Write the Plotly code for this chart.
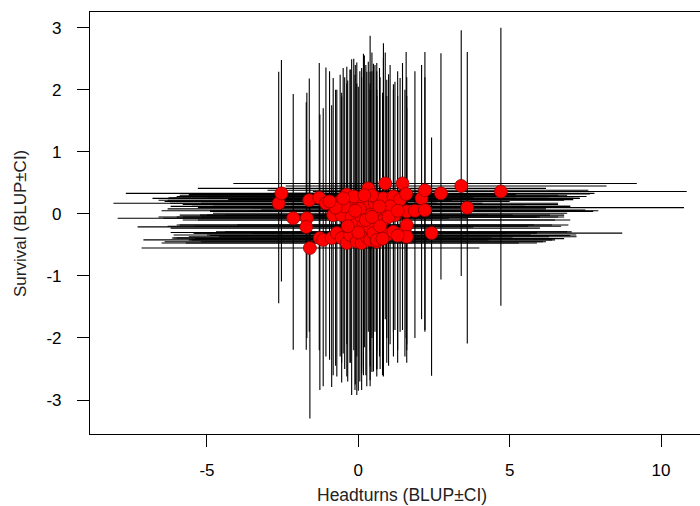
import plotly.graph_objects as go

# BLUP estimates and confidence limits
headturns = [-2.63, -2.54, -2.15, -1.70, -1.72, -1.60, -1.62, -1.29, -1.07, -1.27,
             -1.16, -0.88, -0.83, -0.71, -0.60, -0.55, -0.55, -0.38, -0.38, -0.27,
             -0.27, -0.22, -0.11, -0.05, -0.05, 0.11, 0.11, 0.17, 0.17, 0.28,
             0.33, 0.39, 0.39, 0.39, 0.39, 0.50, 0.55, 0.61, 0.61, 0.61,
             0.61, 0.83, 0.83, 0.89, 0.94, 0.94, 1.16, 1.16, 1.21, 1.38,
             1.46, 1.54, 1.58, 1.60, 1.60, 1.60, 1.87, 2.09, 2.20, 2.20,
             2.42, 2.73, 3.40, 3.60, 4.71, -0.45, 0.05, 0.25, 0.72, 1.05,
             -0.15, 0.45, -0.75, -0.95, -0.50, -0.10, 0.20, 0.70, 1.00,
             1.30, 0.00, 0.45, -0.35, 0.80, 1.30]
survival = [0.17, 0.33, -0.07, -0.07, -0.21, -0.55, 0.22, 0.26, 0.17, -0.39,
            -0.42, -0.39, -0.02, -0.31, 0.20, -0.02, -0.39, 0.31, -0.47, 0.15,
            -0.34, -0.05, -0.18, 0.25, -0.45, -0.05, -0.47, 0.22, -0.18, -0.37,
            0.41, 0.15, -0.02, -0.23, -0.42, -0.31, 0.17, 0.25, 0.01, -0.45,
            -0.42, 0.25, -0.10, 0.49, 0.04, -0.34, 0.28, -0.29, -0.02, 0.23,
            0.49, -0.29, 0.32, 0.04, -0.18, -0.37, 0.05, 0.25, 0.38, 0.06,
            -0.31, 0.33, 0.45, 0.10, 0.36, 0.12, 0.08, -0.10, -0.20, 0.12,
            0.28, 0.30, 0.10, 0.20, 0.25, 0.05, 0.30, 0.12, -0.05,
            0.05, -0.30, -0.05, -0.20, -0.40, -0.35]
surv_lo = [-1.44, -1.09, -2.19, -2.00, -2.19, -3.30, -1.90, -2.20, -2.30, -2.84,
           -2.78, -2.79, -2.60, -2.62, -2.30, -2.40, -2.72, -2.10, -2.62, -2.40,
           -2.40, -2.92, -2.84, -2.30, -2.92, -2.84, -2.57, -2.46, -2.60, -2.78,
           -1.90, -2.20, -2.46, -2.78, -2.68, -2.54, -1.90, -2.20, -2.51, -2.62,
           -2.50, -1.84, -2.62, -1.70, -2.00, -2.40, -1.91, -2.30, -1.87, -1.90,
           -1.87, -2.30, -2.00, -2.10, -2.20, -2.40, -2.00, -1.70, -1.87, -1.90,
           -2.61, -1.06, -1.00, -2.09, -1.48, -2.50, -2.70, -2.60, -2.50, -2.10,
           -2.20, -2.00, -2.45, -2.35, -2.25, -2.75, -2.15, -2.30, -2.45,
           -2.20, -2.85, -2.55, -2.70, -2.60, -2.40]
surv_hi = [2.29, 2.48, 1.93, 1.95, 1.80, 1.20, 2.18, 2.43, 2.36, 1.60,
           1.70, 1.75, 2.19, 2.00, 2.24, 1.89, 1.95, 2.37, 2.10, 2.33,
           2.32, 2.49, 2.24, 2.44, 2.10, 2.35, 2.20, 2.58, 2.33, 2.29,
           2.45, 2.87, 2.29, 2.10, 2.00, 2.42, 2.40, 2.43, 2.30, 2.00,
           1.90, 2.75, 2.51, 2.60, 2.16, 1.90, 2.09, 2.00, 2.13, 2.19,
           2.43, 2.00, 2.61, 2.20, 1.90, 1.70, 2.30, 2.40, 2.61, 2.20,
           1.23, 2.59, 2.96, 2.61, 3.00, 2.20, 2.30, 2.40, 2.20, 2.40,
           2.50, 2.60, 2.00, 2.30, 2.35, 2.40, 2.55, 2.35, 2.25,
           2.30, 2.05, 2.30, 2.15, 1.95, 1.90]
head_lo = [-8.09, -7.68, -7.95, -6.44, -7.29, -7.16, -6.30, -6.27, -6.22, -6.16,
           -7.10, -6.11, -5.23, -5.45, -5.90, -5.00, -6.00, -5.60, -6.50, -5.80,
           -6.10, -6.60, -6.00, -6.80, -6.40, -6.00, -5.70, -6.60, -5.90, -5.60,
           -5.30, -5.50, -5.90, -6.20, -5.50, -5.40, -5.20, -5.00, -4.80, -5.20,
           -5.60, -5.10, -5.30, -3.78, -4.90, -5.00, -4.50, -4.70, -4.40, -4.30,
           -4.13, -4.40, -4.00, -4.20, -4.00, -4.60, -3.60, -3.40, -3.00, -3.20,
           -3.50, -2.80, -2.40, -3.50, -1.50, -6.20, -6.30, -5.80, -5.40, -4.80,
           -6.00, -5.60, -5.30, -6.40, -6.10, -6.50, -5.90, -5.50, -5.20,
           -4.90, -6.20, -5.80, -6.30, -5.40, -4.90]
head_hi = [2.60, 2.70, 3.60, 3.00, 3.80, 4.00, 3.10, 3.80, 4.10, 3.50,
           4.30, 4.40, 5.10, 4.90, 5.00, 4.30, 5.10, 5.20, 5.30, 5.40,
           5.70, 6.00, 5.80, 6.30, 6.10, 5.90, 5.90, 6.80, 6.40, 6.30,
           6.20, 6.60, 6.80, 6.00, 6.40, 5.90, 6.60, 7.10, 6.90, 6.20,
           6.50, 7.30, 7.00, 6.99, 7.76, 7.20, 7.54, 6.90, 6.33, 7.10,
           9.20, 7.05, 7.65, 7.00, 6.94, 7.21, 7.93, 7.32, 7.60, 7.50,
           8.72, 7.80, 8.20, 10.76, 10.85, 5.50, 6.20, 6.50, 6.70, 7.00,
           6.40, 6.90, 4.60, 4.50, 5.20, 6.10, 6.60, 7.00, 6.80,
           7.20, 5.90, 6.60, 5.60, 6.80, 7.00]

x_plus = [h - v for h, v in zip(head_hi, headturns)]
x_minus = [v - l for v, l in zip(headturns, head_lo)]
y_plus = [h - v for h, v in zip(surv_hi, survival)]
y_minus = [v - l for v, l in zip(survival, surv_lo)]

fig = go.Figure()
fig.add_trace(go.Scatter(
    x=headturns, y=survival, mode="markers",
    marker=dict(color="#ff0000", size=13, line=dict(color="#8a0000", width=0.7)),
    error_x=dict(type="data", symmetric=False, array=x_plus, arrayminus=x_minus,
                 color="black", thickness=1.1, width=0),
    error_y=dict(type="data", symmetric=False, array=y_plus, arrayminus=y_minus,
                 color="black", thickness=1.1, width=0),
    showlegend=False, hoverinfo="skip",
))

fam = "Liberation Sans, Arial, sans-serif"
tick_font = dict(family=fam, size=17, color="black")
fig.update_layout(
    width=700, height=506,
    margin=dict(l=90, r=0, t=12, b=72),
    paper_bgcolor="white", plot_bgcolor="white",
    xaxis=dict(range=[-8.864, 11.288], tickvals=[-5, 0, 5, 10], ticktext=["-5", "0", "5", "10"],
               showgrid=False, zeroline=False, showline=True, mirror=True,
               linecolor="black", linewidth=1.2, ticks="outside", ticklen=12,
               tickcolor="black", tickwidth=1.2, tickfont=tick_font, ticklabelstandoff=8),
    yaxis=dict(range=[-3.548, 3.253], tickvals=[-3, -2, -1, 0, 1, 2, 3],
               ticktext=["-3", "-2", "-1", "0", "1", "2", "3"],
               showgrid=False, zeroline=False, showline=True, mirror=False,
               linecolor="black", linewidth=1.2, ticks="outside", ticklen=12,
               tickcolor="black", tickwidth=1.2, tickfont=tick_font, ticklabelstandoff=12),
    annotations=[
        dict(text="Headturns (BLUP±CI)", xref="paper", yref="paper", x=0.511, y=-0.1445,
             xanchor="center", yanchor="middle", showarrow=False,
             font=dict(family=fam, size=17.5, color="#222")),
        dict(text="Survival (BLUP±CI)", xref="paper", yref="paper", x=-0.1148, y=0.5,
             xanchor="center", yanchor="middle", showarrow=False, textangle=-90,
             font=dict(family=fam, size=17, color="#222")),
    ],
)

fig.write_html("out.html", config={"displayModeBar": False},
               post_script="document.body.style.margin='0';document.body.style.overflow='hidden';")
